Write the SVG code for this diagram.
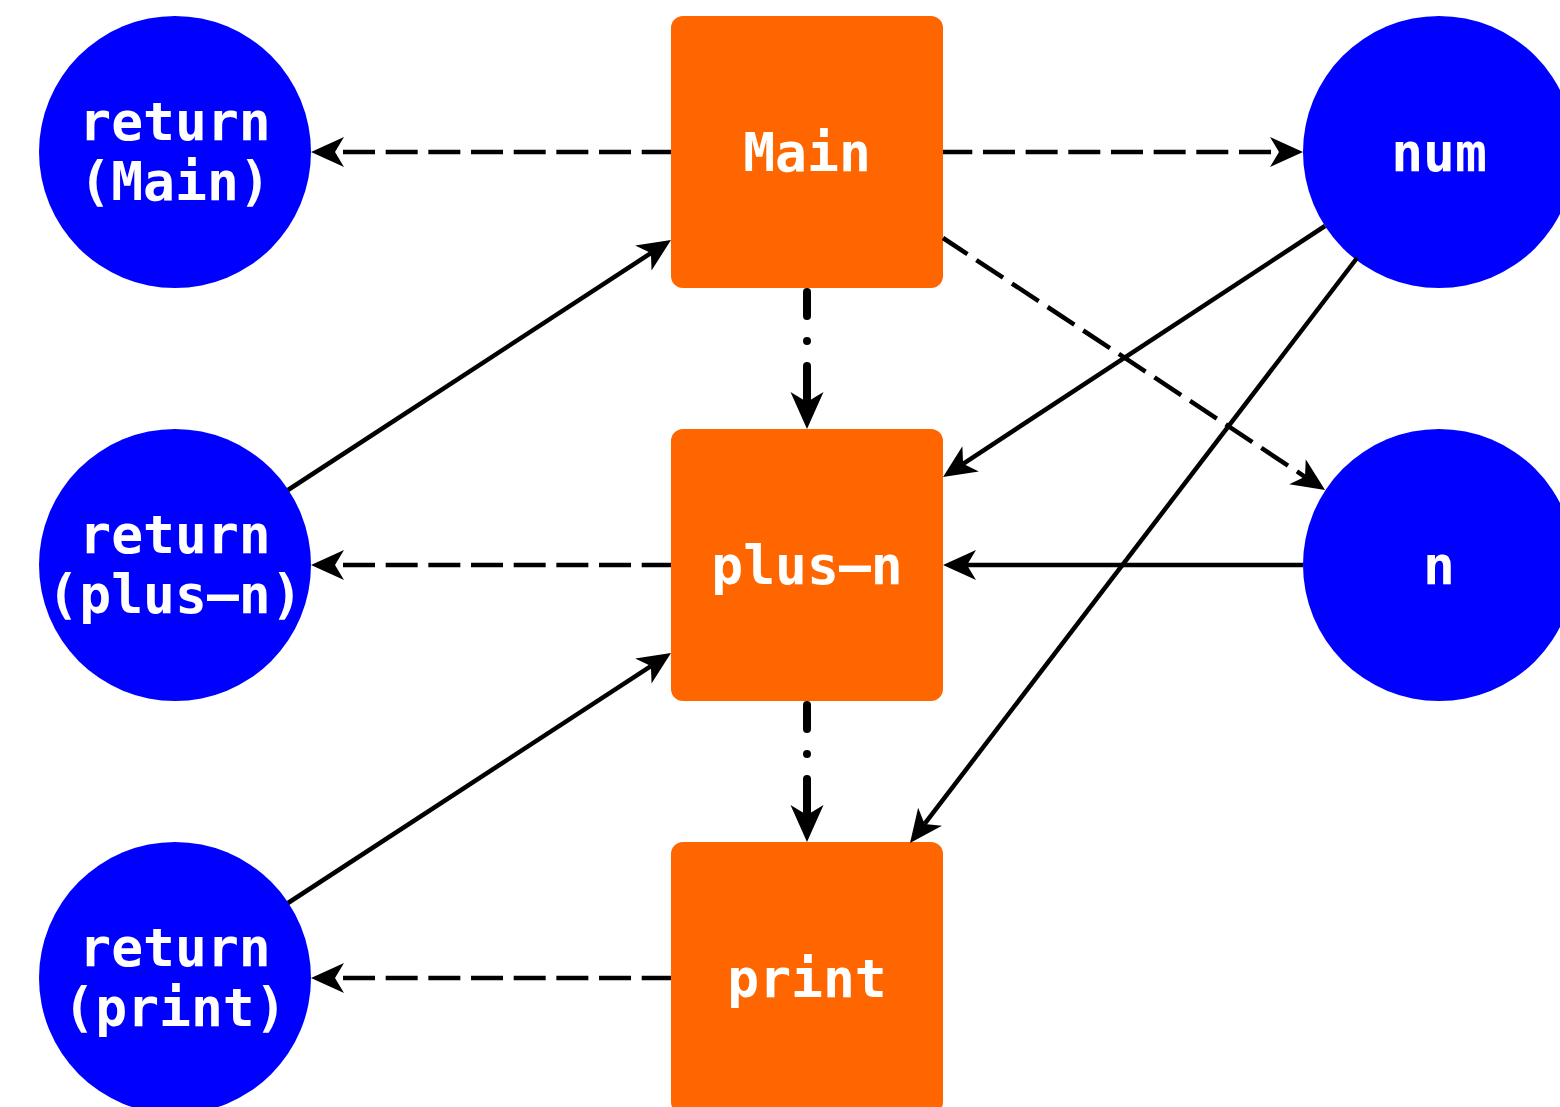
<svg xmlns="http://www.w3.org/2000/svg" width="1560" height="1107" viewBox="0 0 1560 1107">
  <style>
    .fn { fill: #ff6600; }
    .val { fill: #0000ff; }
    .lbl { font-family: "DejaVu Sans Mono", "Liberation Mono", monospace; font-weight: bold; font-size: 53px; fill: #ffffff; text-anchor: middle; }
    .edge { fill: none; stroke: #000000; stroke-width: 4.5; }
    .dash { stroke-dasharray: 32 10.67; stroke-dashoffset: 2.7; }
    .ctl { fill: none; stroke: #000000; stroke-width: 8; stroke-linecap: round; stroke-dasharray: 24 25 0 25 60; }
    .arr { marker-end: url(#head); }
    .arr-big { marker-end: url(#head-big); }
  </style>
  <defs>
    <!-- arrowheads are anchored at the notch so the line ends under the head -->
    <marker id="head" markerUnits="userSpaceOnUse" viewBox="-12 -18 40 36" refX="0" refY="0" markerWidth="40" markerHeight="36" orient="auto" overflow="visible">
      <path d="M24,0 L-9,-15 L0,0 L-9,15 Z" fill="#000000"/>
    </marker>
    <marker id="head-big" markerUnits="userSpaceOnUse" viewBox="-12 -20 44 40" refX="0" refY="0" markerWidth="44" markerHeight="40" orient="auto" overflow="visible">
      <path d="M27,0 L-10,-16.5 L0,0 L-10,16.5 Z" fill="#000000"/>
    </marker>
  </defs>

  <!-- function nodes -->
  <g id="node-main">
    <rect class="fn" x="671" y="16" width="272" height="272" rx="12"/>
    <text class="lbl" x="807" y="171">Main</text>
  </g>
  <g id="node-plus-n">
    <rect class="fn" x="671" y="429" width="272" height="272" rx="12"/>
    <text class="lbl" x="807" y="584">plus–n</text>
  </g>
  <g id="node-print">
    <rect class="fn" x="671" y="842" width="272" height="272" rx="12"/>
    <text class="lbl" x="807" y="997">print</text>
  </g>

  <!-- value nodes -->
  <g id="node-return-main">
    <circle class="val" cx="175" cy="152" r="136"/>
    <text class="lbl" x="175" y="140">return</text>
    <text class="lbl" x="175" y="200">(Main)</text>
  </g>
  <g id="node-return-plus-n">
    <circle class="val" cx="175" cy="565" r="136"/>
    <text class="lbl" x="175" y="553">return</text>
    <text class="lbl" x="175" y="613">(plus–n)</text>
  </g>
  <g id="node-return-print">
    <circle class="val" cx="175" cy="978" r="136"/>
    <text class="lbl" x="175" y="966">return</text>
    <text class="lbl" x="175" y="1026">(print)</text>
  </g>
  <g id="node-num">
    <circle class="val" cx="1439" cy="152" r="136"/>
    <text class="lbl" x="1439" y="171">num</text>
  </g>
  <g id="node-n">
    <circle class="val" cx="1439" cy="565" r="136"/>
    <text class="lbl" x="1439" y="584">n</text>
  </g>

  <!-- connectors -->
  <g id="connectors">
    <!-- return values (dashed) -->
    <line class="edge dash arr" x1="671" y1="152" x2="335" y2="152"/>
    <line class="edge dash arr" x1="671" y1="565" x2="335" y2="565"/>
    <line class="edge dash arr" x1="671" y1="978" x2="335" y2="978"/>
    <!-- definitions (dashed) -->
    <line class="edge dash arr" x1="943" y1="152" x2="1279" y2="152"/>
    <line class="edge dash arr" x1="943" y1="238" x2="1305" y2="476.8"/>
    <!-- data flow (solid) -->
    <line class="edge arr" x1="288" y1="490" x2="650.9" y2="253.1"/>
    <line class="edge arr" x1="288" y1="903" x2="650.9" y2="666.1"/>
    <line class="edge arr" x1="1325" y1="226" x2="963.1" y2="463.8"/>
    <line class="edge arr" x1="1357" y1="258" x2="924.6" y2="823.9"/>
    <line class="edge arr" x1="1303" y1="565" x2="967" y2="565"/>
    <!-- control flow (dash-dot) -->
    <line class="ctl arr-big" x1="807" y1="292" x2="807" y2="402"/>
    <line class="ctl arr-big" x1="807" y1="705" x2="807" y2="815"/>
  </g>
</svg>
